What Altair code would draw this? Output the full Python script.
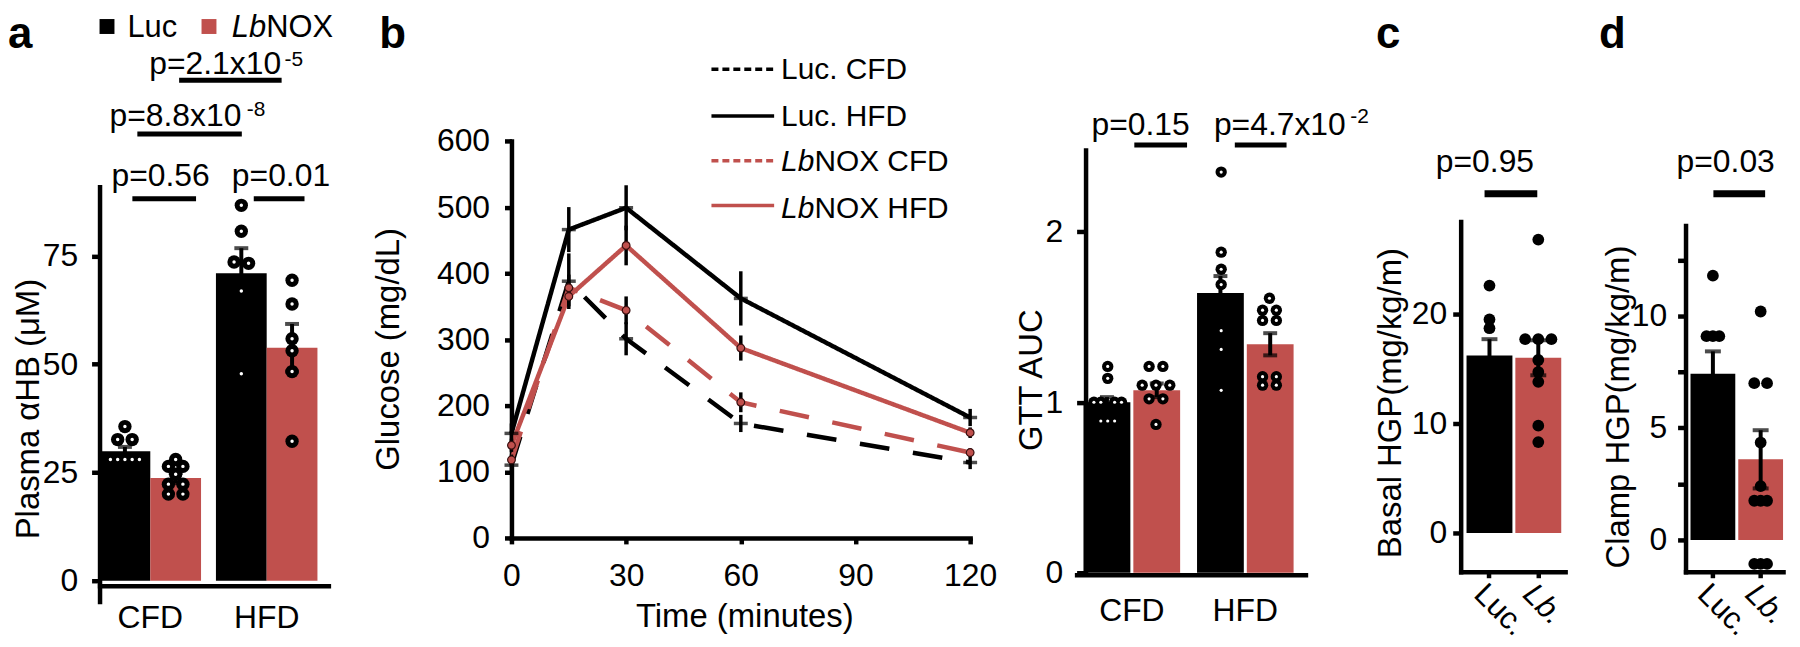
import altair as alt
import pandas as pd

FONT = "Liberation Sans"
RED = "#C0504D"
BLACK = "#000000"
H = 579  # common view height of every panel

# ---------------- panel a : plasma alpha-HB ----------------
a_group_order = ["CFD", "HFD"]
a_series_order = ["Luc", "LbNOX"]
a_groups = ["CFD", "CFD", "HFD", "HFD"]
a_series = ["Luc", "LbNOX", "Luc", "LbNOX"]
a_mean = [29.9, 23.7, 71.0, 53.8]
a_sem = [1.0, 1.2, 5.8, 5.5]
a_pt_values = [
    [35.6, 32.6, 32.6, 28.0, 28.0, 28.0, 28.0, 28.0],
    [28.0, 26.4, 26.4, 24.6, 22.3, 22.3, 20.0, 20.0],
    [86.7, 80.7, 73.6, 73.3, 66.9, 47.8],
    [69.4, 63.9, 55.9, 53.1, 48.3, 32.2],
]
a_pt_slots = [
    [0, -1, 1, -2, -1, 0, 1, 2],
    [0, -1, 1, 0, -1, 1, -1, 1],
    [0, 0, -1, 1, 0, 0],
    [0, 0, 0, 0, 0, 0],
]
a_yticks = [0, 25, 50, 75]

# ---------------- panel b : glucose tolerance ----------------
b_time = [0, 15, 30, 60, 120]
b_series_names = ["Luc. CFD", "Luc. HFD", "LbNOX CFD", "LbNOX HFD"]
b_luc_cfd = [110, 388, 301, 173, 114]
b_luc_hfd = [158, 466, 499, 362, 182]
b_lb_cfd = [118, 378, 344, 205, 129]
b_lb_hfd = [140, 365, 442, 287, 159]
b_luc_cfd_sem = [10, 42, 25, 13, 10]
b_luc_hfd_sem = [15, 34, 34, 41, 13]
b_lb_cfd_sem = [8, 20, 21, 15, 6]
b_lb_hfd_sem = [10, 15, 30, 19, 8]
b_xticks = [0, 30, 60, 90, 120]
b_yticks = [0, 100, 200, 300, 400, 500, 600]

# ---------------- panel b (right) : GTT AUC ----------------
g_groups = ["CFD", "CFD", "HFD", "HFD"]
g_series = ["Luc", "LbNOX", "Luc", "LbNOX"]
g_mean = [1.00, 1.07, 1.64, 1.34]
g_sem = [0.03, 0.04, 0.10, 0.065]
g_pt_values = [
    [1.21, 1.14, 1.00, 1.00, 1.00, 1.00, 0.89, 0.89, 0.89],
    [1.21, 1.21, 1.10, 1.10, 1.10, 1.02, 1.02, 0.87],
    [2.35, 1.88, 1.78, 1.69, 1.42, 1.31, 1.07],
    [1.61, 1.54, 1.54, 1.48, 1.48, 1.15, 1.15, 1.10, 1.10],
]
g_pt_slots = [
    [0, 0, -2, -1, 1, 2, -1, 0, 1],
    [-1, 1, -2, 0, 2, -1, 1, 0],
    [0, 0, 0, 0, 0, 0, 0],
    [0, -1, 1, -1, 1, -1, 1, -1, 1],
]
g_yticks = [0, 1, 2]

# ---------------- panel c : basal HGP ----------------
c_series = ["Luc.", "Lb."]
c_mean = [16.2, 16.0]
c_sem = [1.5, 1.6]
c_pt_values = [
    [22.6, 19.5, 18.7],
    [26.8, 17.7, 17.7, 17.7, 15.8, 14.7, 13.8, 9.8, 8.3],
]
c_pt_slots = [
    [0, 0, 0],
    [0, -2, 0, 2, 0, 0, 0, 0, 0],
]
c_yticks = [0, 10, 20]

# ---------------- panel d : clamp HGP ----------------
d_series = ["Luc.", "Lb."]
d_mean = [7.42, 3.6]
d_sem = [1.0, 1.3]
d_pt_values = [
    [11.8, 9.1, 9.1, 9.1],
    [10.2, 7.0, 7.0, 4.35, 2.4, 1.75, 1.75, 1.75, -1.07, -1.07, -1.07],
]
d_pt_slots = [
    [0, -1, 0, 1],
    [0, -1, 1, 0, 0, -1, 0, 1, -1, 0, 1],
]
d_yticks = [0, 2.5, 5, 7.5, 10, 12.5]

# p-value annotations
p_a = ["p=2.1x10", "-5", "p=8.8x10", "-8", "p=0.56", "p=0.01"]
p_g = ["p=0.15", "p=4.7x10", "-2"]
p_c = "p=0.95"
p_d = "p=0.03"

ONE = pd.DataFrame({"k": [0]})
SLOTS = list(range(-3, 4))


def txt(s, x, y, size=32, style="normal", weight="normal", align="left"):
    return alt.Chart(ONE).mark_text(
        text=s, font=FONT, fontSize=size, fontStyle=style, fontWeight=weight,
        align=align, baseline="alphabetic", color=BLACK,
    ).encode(x=alt.value(x), y=alt.value(y))


def hline(x1, x2, y, w=5, color=BLACK, dash=None):
    props = dict(color=color, strokeWidth=w)
    if dash is not None:
        props["strokeDash"] = dash
    return alt.Chart(ONE).mark_rule(**props).encode(
        x=alt.value(x1), x2=alt.value(x2), y=alt.value(y))


def square(x, y, color):
    return alt.Chart(ONE).mark_square(size=225, color=color, opacity=1).encode(
        x=alt.value(x), y=alt.value(y))


def bar_frame(groups, series, mean, sem):
    return pd.DataFrame({
        "group": groups, "series": series, "mean": mean,
        "lo": [m - s for m, s in zip(mean, sem)],
        "hi": [m + s for m, s in zip(mean, sem)],
    })


def point_frame(groups, series, values, slots):
    rows = []
    for g, s, vs, ks in zip(groups, series, values, slots):
        for v, k in zip(vs, ks):
            rows.append({"group": g, "series": s, "value": v, "key": f"{s}{k:+d}"})
    return pd.DataFrame(rows)


def grouped_panel(bars, pts, series_order, xscale, xaxis, yscale, yaxis,
                  sub_pad, pt_size, dot_size, cap, extra):
    X = alt.X("group:N", scale=xscale, axis=xaxis)
    XO = alt.XOffset("series:N", scale=alt.Scale(type="band", domain=series_order,
                                                 paddingInner=sub_pad, paddingOuter=0))
    key_dom = [f"{s}{k:+d}" for s in series_order for k in SLOTS]
    XP = alt.XOffset("key:N", scale=alt.Scale(type="band", domain=key_dom,
                                              paddingInner=0, paddingOuter=0))
    color = alt.Color("series:N", scale=alt.Scale(domain=series_order, range=[BLACK, RED]),
                      legend=None)

    def Y(f):
        return alt.Y(f"{f}:Q", scale=yscale, axis=yaxis)

    bars_l = alt.Chart(bars).mark_bar(opacity=1).encode(
        x=X, xOffset=XO, y=Y("mean"), y2=alt.datum(0), color=color)
    err_l = alt.Chart(bars).mark_rule(color=BLACK, strokeWidth=4).encode(
        x=X, xOffset=XO, y=Y("lo"), y2=alt.Y2("hi:Q"))
    cap_hi = alt.Chart(bars).mark_tick(color=BLACK, thickness=4, size=cap,
                                       orient="horizontal").encode(x=X, xOffset=XO, y=Y("hi"))
    cap_lo = alt.Chart(bars).mark_tick(color=BLACK, thickness=4, size=cap,
                                       orient="horizontal").encode(x=X, xOffset=XO, y=Y("lo"))
    pts_l = alt.Chart(pts).mark_circle(color=BLACK, size=pt_size, opacity=1).encode(
        x=X, xOffset=XP, y=Y("value"))
    layers = [bars_l, err_l, cap_hi, cap_lo, pts_l]
    if dot_size:
        layers.append(alt.Chart(pts).mark_circle(color="white", size=dot_size, opacity=1).encode(
            x=X, xOffset=XP, y=Y("value")))
    return alt.layer(*layers, *extra).resolve_scale(xOffset="independent", color="independent")


def simple_panel(series_order, mean, sem, values, slots, yscale, yaxis, xrange,
                 pad_in, pad_out, align, width, extra):
    bars = pd.DataFrame({"series": series_order, "mean": mean,
                         "lo": [m - s for m, s in zip(mean, sem)],
                         "hi": [m + s for m, s in zip(mean, sem)]})
    rows = []
    for s, vs, ks in zip(series_order, values, slots):
        for v, k in zip(vs, ks):
            rows.append({"series": s, "value": v, "key": f"{k:+d}"})
    pts = pd.DataFrame(rows)
    X = alt.X("series:N", scale=alt.Scale(type="band", domain=series_order, range=xrange,
                                          paddingInner=pad_in, paddingOuter=pad_out, align=align),
              axis=alt.Axis(title=None, labelAngle=45, tickSize=6, labelPadding=1, offset=-14,
                            labelFontSize=31,
                            labelFontStyle={"condition": {"test": "datum.value == 'Lb.'",
                                                          "value": "italic"},
                                            "value": "normal"}))
    XP = alt.XOffset("key:N", scale=alt.Scale(type="band", domain=[f"{k:+d}" for k in SLOTS],
                                              paddingInner=0, paddingOuter=0))
    color = alt.Color("series:N", scale=alt.Scale(domain=series_order, range=[BLACK, RED]),
                      legend=None)

    def Y(f):
        return alt.Y(f"{f}:Q", scale=yscale, axis=yaxis)

    bars_l = alt.Chart(bars).mark_bar(opacity=1).encode(x=X, y=Y("mean"), y2=alt.datum(0),
                                                         color=color)
    err_l = alt.Chart(bars).mark_rule(color=BLACK, strokeWidth=4).encode(
        x=X, y=Y("lo"), y2=alt.Y2("hi:Q"))
    cap_hi = alt.Chart(bars).mark_tick(color=BLACK, thickness=4, size=16,
                                       orient="horizontal").encode(x=X, y=Y("hi"))
    cap_lo = alt.Chart(bars).mark_tick(color=BLACK, thickness=4, size=16,
                                       orient="horizontal").encode(x=X, y=Y("lo"))
    pts_l = alt.Chart(pts).mark_circle(color=BLACK, size=140, opacity=1).encode(
        x=X, xOffset=XP, y=Y("value"))
    return alt.layer(bars_l, err_l, cap_hi, cap_lo, pts_l, *extra).properties(
        width=width, height=H)


def yaxis(values, title, tick, pad, tx, ty, label_expr=None):
    kw = dict(values=values, title=title, tickSize=tick, labelPadding=pad,
              titleX=tx, titleY=ty, titleAngle=270, titleAlign="center",
              titleBaseline="middle")
    if label_expr is not None:
        kw["labelExpr"] = label_expr
    return alt.Axis(**kw)


# ---------- panel a ----------
a_bars = bar_frame(a_groups, a_series, a_mean, a_sem)
a_pts = point_frame(a_groups, a_series, a_pt_values, a_pt_slots)
a_extra = [
    txt("a", -92, 39, size=44, weight="bold"),
    square(7.5, 17, BLACK), txt("Luc", 28, 28, size=31),
    square(110, 17, RED), txt("Lb", 133, 28, size=31, style="italic"),
    txt("NOX", 167.5, 28, size=31),
    txt(p_a[0], 50, 65), txt(p_a[1], 186, 57, size=21), hline(80, 183, 71),
    txt(p_a[2], 10, 117), txt(p_a[3], 148, 107, size=21), hline(38, 143, 125),
    txt(p_a[4], 12, 177), hline(33, 97, 190),
    txt(p_a[5], 133, 177), hline(155, 206, 190),
]
panel_a = grouped_panel(
    a_bars, a_pts, a_series_order,
    alt.Scale(type="band", domain=a_group_order, range=[0, 230], paddingInner=0.128,
              paddingOuter=0.047, align=0),
    alt.Axis(title=None, ticks=False, tickSize=0, labelAngle=0, labelPadding=17),
    alt.Scale(domain=[-4.83, 91], range=[595, 178], nice=False, zero=False),
    yaxis(a_yticks, "Plasma αHB (μM)", 8, 14, -71, 401),
    0, 180, 12, 14, a_extra,
).properties(width=414, height=H)

# ---------- panel b ----------
rows = []
for name, vals, sems in zip(b_series_names, [b_luc_cfd, b_luc_hfd, b_lb_cfd, b_lb_hfd],
                            [b_luc_cfd_sem, b_luc_hfd_sem, b_lb_cfd_sem, b_lb_hfd_sem]):
    for t, v, s in zip(b_time, vals, sems):
        rows.append({"series": name, "time": t, "value": v, "lo": v - s, "hi": v + s})
b_df = pd.DataFrame(rows)
b_black = b_df[b_df["series"].str.startswith("Luc")]
b_red = b_df[b_df["series"].str.startswith("LbNOX")]

bX = alt.X("time:Q", scale=alt.Scale(domain=[0, 120], range=[0, 461], nice=False, zero=False),
           axis=alt.Axis(values=b_xticks, title="Time (minutes)", offset=-48, tickSize=6,
                         labelPadding=17, labelFlush=False, labelOverlap=False,
                         titleX=234, titleY=79, titleAngle=0, titleAlign="center",
                         titleBaseline="middle"))
b_yscale = alt.Scale(domain=[0, 600], range=[531, 132], nice=False, zero=False)
b_yaxis = yaxis(b_yticks, "Glucose (mg/dL)", 7, 15, -124, 341)


def bY(f):
    return alt.Y(f"{f}:Q", scale=b_yscale, axis=b_yaxis)


b_lines = alt.Chart(b_df).mark_line().encode(
    x=bX, y=bY("value"),
    color=alt.Color("series:N", scale=alt.Scale(domain=b_series_names,
                                                range=[BLACK, BLACK, RED, RED]), legend=None),
    strokeDash=alt.StrokeDash("series:N", scale=alt.Scale(
        domain=b_series_names, range=[[30, 24], [1, 0], [30, 24], [1, 0]]), legend=None),
    strokeWidth=alt.StrokeWidth("series:N", scale=alt.Scale(
        domain=b_series_names, range=[4.5, 4.5, 3.8, 3.8]), legend=None),
)
b_err = alt.Chart(b_df).mark_rule(color=BLACK, strokeWidth=3.5).encode(
    x=bX, y=bY("lo"), y2=alt.Y2("hi:Q"))
b_ticks = alt.Chart(b_black).mark_tick(color=BLACK, thickness=3.5, size=14,
                                       orient="horizontal").encode(x=bX, y=bY("value"))
b_pts = alt.Chart(b_red).mark_point(filled=True, shape="circle", size=60, fill=RED,
                                    stroke="#3a1010", strokeWidth=1.2, opacity=1).encode(
    x=bX, y=bY("value"))
b_extra = [
    txt("b", -133, 39, size=44, weight="bold"),
    hline(201, 264, 60, w=3.5, dash=[7, 4]), txt("Luc. CFD", 271, 70, size=30),
    hline(201, 264, 107, w=3.5), txt("Luc. HFD", 271, 117, size=30),
    hline(201, 264, 152, w=3.5, color=RED, dash=[7, 4]),
    txt("Lb", 271, 162, size=30, style="italic"), txt("NOX CFD", 304.5, 162, size=30),
    hline(201, 264, 197, w=3.5, color=RED),
    txt("Lb", 271, 209, size=30, style="italic"), txt("NOX HFD", 304.5, 209, size=30),
]
panel_b = alt.layer(b_lines, b_err, b_ticks, b_pts, *b_extra).properties(width=577, height=H)

# ---------- panel b (GTT AUC) ----------
g_bars = bar_frame(g_groups, g_series, g_mean, g_sem)
g_pts = point_frame(g_groups, g_series, g_pt_values, g_pt_slots)
g_extra = [
    txt(p_g[0], 6, 126), hline(49, 102, 136),
    txt(p_g[1], 129, 126), txt(p_g[2], 266, 114, size=21), hline(150, 202, 136),
]
panel_g = grouped_panel(
    g_bars, g_pts, a_series_order,
    alt.Scale(type="band", domain=a_group_order, range=[-9, 221], paddingInner=0.149,
              paddingOuter=0.083, align=0.37),
    alt.Axis(title=None, ticks=False, tickSize=0, labelAngle=0, labelPadding=21, offset=-11),
    alt.Scale(domain=[0, 2.48], range=[566, 141], nice=False, zero=False),
    yaxis(g_yticks, "GTT AUC", 9, 14, -54, 372),
    0.06, 130, 10, 14, g_extra,
).properties(width=377, height=H)

# ---------- panel c ----------
panel_c = simple_panel(
    c_series, c_mean, c_sem, c_pt_values, c_pt_slots,
    alt.Scale(domain=[-3.55, 28.45], range=[565, 213], nice=False, zero=False),
    yaxis(c_yticks, "Basal HGP(mg/kg/m)", 8, 6, -70, 395),
    [0, 105], 0.06, 0.10, 0.6, 226,
    [txt("c", -85, 39, size=44, weight="bold"), txt(p_c, -25, 163), hline(24, 77, 185, w=7)],
)

# ---------- panel d ----------
panel_d = simple_panel(
    d_series, d_mean, d_sem, d_pt_values, d_pt_slots,
    alt.Scale(domain=[-1.42, 14.04], range=[565, 217], nice=False, zero=False),
    yaxis(d_yticks, "Clamp HGP(mg/kg/m)", 8, 11, -67, 399,
          label_expr="datum.value % 5 == 0 ? datum.label : ''"),
    [0, 98], 0.0625, 0.052, 1, 98,
    [txt("d", -87, 39, size=44, weight="bold"), txt(p_d, -9, 163), hline(28, 80, 185, w=7)],
)

chart = alt.hconcat(
    panel_a, panel_b, panel_g, panel_c, panel_d, spacing=0, bounds="flush"
).resolve_scale(
    color="independent", xOffset="independent", strokeDash="independent",
    strokeWidth="independent"
).properties(
    padding=0, background="white"
).configure_view(stroke=None).configure_axis(
    labelFont=FONT, titleFont=FONT, labelColor=BLACK, titleColor=BLACK,
    domainColor=BLACK, tickColor=BLACK, grid=False, labelFontSize=32, titleFontSize=33,
    titleFontWeight="normal", domainWidth=4.5, tickWidth=4.5, domainCap="square",
)

chart.save("out.html", embed_options={"renderer": "svg", "actions": False})
